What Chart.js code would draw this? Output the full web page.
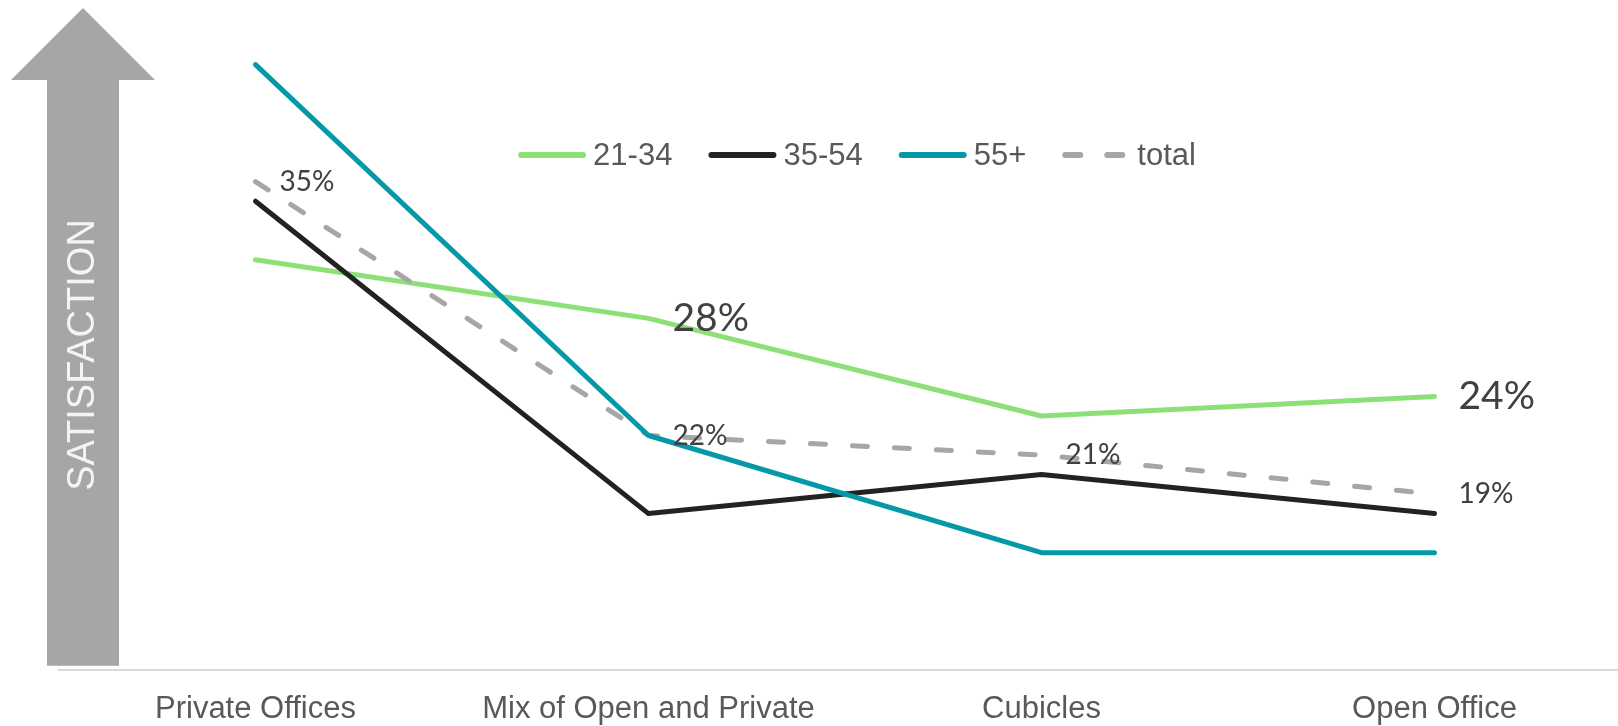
<!DOCTYPE html>
<html>
<head>
<meta charset="utf-8">
<title>Satisfaction by office layout</title>
<script src="https://cdn.jsdelivr.net/npm/chart.js@4/dist/chart.umd.min.js"></script>
<style>
  html, body { margin: 0; padding: 0; background: #fff; }
  #wrap { position: relative; width: 1618px; height: 726px; }
</style>
</head>
<body>
<div id="wrap"><canvas id="chart"></canvas></div>
<script>
// categories along the bottom
const categories = ['Private Offices', 'Mix of Open and Private', 'Cubicles', 'Open Office'];

// satisfaction (%) by age group
const age21to34 = [31, 28, 23, 24];
const age35to54 = [34, 18, 20, 18];
const age55plus = [41, 22, 16, 16];
const totalAll  = [35, 22, 21, 19];

// which points carry a % label
const labels21to34 = [false, true, false, true];
const labelsTotal  = [true, true, true, true];

const seriesNames = ['21-34', '35-54', '55+', 'total'];

function toPoints(values) {
  return values.map((v, i) => ({ x: i, y: v }));
}

// grey "SATISFACTION" arrow on the left, just decoration
const arrowPlugin = {
  id: 'arrow',
  beforeDraw(chart) {
    const ctx = chart.ctx;
    const bottom = chart.chartArea.bottom - 4;
    ctx.save();
    ctx.fillStyle = '#a6a6a6';
    ctx.beginPath();
    ctx.moveTo(83, 8);
    ctx.lineTo(155, 80);
    ctx.lineTo(119, 80);
    ctx.lineTo(119, bottom);
    ctx.lineTo(47, bottom);
    ctx.lineTo(47, 80);
    ctx.lineTo(11, 80);
    ctx.closePath();
    ctx.fill();
    ctx.translate(84, 355);
    ctx.rotate(-Math.PI / 2);
    ctx.fillStyle = '#f4f4f4';
    ctx.font = '38px "Liberation Sans", Arial, sans-serif';
    ctx.textAlign = 'center';
    ctx.textBaseline = 'middle';
    ctx.fillText('SATISFACTION', 0, 0);
    ctx.restore();
  }
};

// value labels to the right of chosen points
const valueLabels = {
  id: 'valueLabels',
  afterDatasetsDraw(chart) {
    const ctx = chart.ctx;
    ctx.save();
    ctx.fillStyle = '#404040';
    ctx.textAlign = 'left';
    ctx.textBaseline = 'middle';
    chart.data.datasets.forEach((ds, di) => {
      if (!ds.showLabels) return;
      const meta = chart.getDatasetMeta(di);
      ctx.font = ds.labelSize + 'px Lato, "Open Sans", sans-serif';
      meta.data.forEach((pt, i) => {
        if (!ds.showLabels[i]) return;
        ctx.fillText(ds.data[i].y + '%', pt.x + 24, pt.y);
      });
    });
    ctx.restore();
  }
};

// legend floating inside the plot, line swatches
const floatLegend = {
  id: 'floatLegend',
  afterDatasetsDraw(chart) {
    const ctx = chart.ctx;
    const y = 155;
    const swatch = 62, cap = 3, textGap = 7, itemGap = 36;
    const items = seriesNames.map(name => chart.data.datasets.find(d => d.label === name));
    ctx.save();
    ctx.font = '31px "Liberation Sans", Arial, sans-serif';
    const widths = items.map(d => swatch + 2 * cap + textGap + ctx.measureText(d.label).width);
    const total = widths.reduce((a, b) => a + b, 0) + itemGap * (items.length - 1);
    let x = 857 - total / 2;
    items.forEach((d, i) => {
      ctx.strokeStyle = d.borderColor;
      ctx.lineWidth = 6;
      ctx.lineCap = 'round';
      ctx.setLineDash(d.borderDash || []);
      ctx.beginPath();
      ctx.moveTo(x + cap, y);
      ctx.lineTo(x + cap + swatch, y);
      ctx.stroke();
      ctx.setLineDash([]);
      ctx.fillStyle = '#595959';
      ctx.textAlign = 'left';
      ctx.textBaseline = 'middle';
      ctx.fillText(d.label, x + swatch + 2 * cap + textGap, y + 1);
      x += widths[i] + itemGap;
    });
    ctx.restore();
  }
};

const lineBase = {
  borderWidth: 5,
  pointRadius: 0,
  pointHoverRadius: 0,
  tension: 0,
  borderCapStyle: 'round',
  borderJoinStyle: 'round',
  fill: false
};

new Chart(document.getElementById('chart').getContext('2d'), {
  type: 'line',
  data: {
    datasets: [
      { ...lineBase, label: '21-34', data: toPoints(age21to34), borderColor: '#8de077', order: 4,
        showLabels: labels21to34, labelSize: 39 },
      { ...lineBase, label: '35-54', data: toPoints(age35to54), borderColor: '#222222', order: 3 },
      { ...lineBase, label: '55+', data: toPoints(age55plus), borderColor: '#0599a8', order: 1 },
      { ...lineBase, label: 'total', data: toPoints(totalAll), borderColor: '#a6a6a6', borderDash: [15, 27],
        order: 2, showLabels: labelsTotal, labelSize: 28 }
    ]
  },
  options: {
    responsive: true,
    maintainAspectRatio: false,
    animation: false,
    // negative bottom padding pulls the axis down to where the original sits
    layout: { padding: { left: 59, top: 6, right: 0, bottom: -15 } },
    plugins: {
      legend: { display: false },
      tooltip: { enabled: false }
    },
    scales: {
      x: {
        type: 'linear',
        min: -0.5,
        max: 3.467,
        grid: { display: false },
        border: { display: true, color: '#d9d9d9', width: 2 },
        afterBuildTicks: axis => { axis.ticks = categories.map((_, i) => ({ value: i })); },
        ticks: {
          padding: 13,
          maxRotation: 0,
          autoSkip: false,
          color: '#595959',
          font: { family: '"Liberation Sans", Arial, sans-serif', size: 31 },
          callback: v => categories[v] ?? ''
        }
      },
      y: {
        display: false,
        min: 10,
        max: 44
      }
    }
  },
  plugins: [arrowPlugin, valueLabels, floatLegend]
});
</script>
</body>
</html>
